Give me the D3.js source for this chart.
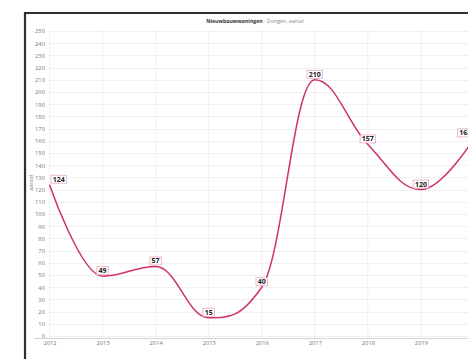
<!DOCTYPE html>
<html>
<head>
<meta charset="utf-8">
<script src="https://cdn.jsdelivr.net/npm/d3@7/dist/d3.min.js"></script>
<style>
  html, body { margin: 0; padding: 0; background: #fff; }
  svg { display: block; font-family: "Open Sans", "Liberation Sans", sans-serif; }
</style>
</head>
<body>
<svg id="chart" width="468" height="359"></svg>
<script>
// Nieuwbouwwoningen in Dongen per jaar
const years = ["2012", "2013", "2014", "2015", "2016", "2017", "2018", "2019", "2020"];
const values = [124, 49, 57, 15, 40, 210, 157, 120, 162];
const yTicks = d3.range(0, 251, 10);
const titleMain = "Nieuwbouwwoningen";
const titleSub = " - Dongen, aantal";
const yTitle = "aantal";

const W = 468, H = 359;
const plot = { left: 50, right: 474, top: 31, bottom: 336 };

const svg = d3.select("#chart");

// outer frame (dark border running off the right and bottom)
svg.append("rect").attr("x", 0).attr("y", 0).attr("width", W).attr("height", H).attr("fill", "#fff");
svg.append("path")
  .attr("d", `M25,${H + 5} L25,13 L${W + 5},13`)
  .attr("fill", "none").attr("stroke", "#2f2f2f").attr("stroke-width", 2.2);

const x = d3.scalePoint().domain(years).range([plot.left - 0.5, plot.right]);
const y = d3.scaleLinear().domain([0, 250]).range([plot.bottom, plot.top]);

// horizontal grid
svg.append("g").selectAll("line").data(yTicks).join("line")
  .attr("x1", plot.left).attr("x2", W)
  .attr("y1", d => Math.round(y(d)) + 0.5).attr("y2", d => Math.round(y(d)) + 0.5)
  .attr("stroke", "#ececec").attr("stroke-width", 0.8);

// vertical grid at each year
svg.append("g").selectAll("line").data(years).join("line")
  .attr("x1", d => x(d)).attr("x2", d => x(d))
  .attr("y1", plot.top).attr("y2", plot.bottom + 2)
  .attr("stroke", "#ececec").attr("stroke-width", 0.8);

// x axis line
svg.append("line")
  .attr("x1", 34).attr("x2", W).attr("y1", 338.5).attr("y2", 338.5)
  .attr("stroke", "#d4d4d4").attr("stroke-width", 1.2);

// y tick labels
const yAxis = d3.axisLeft(y).tickValues(yTicks).tickSize(0).tickPadding(0);
const gy = svg.append("g").attr("transform", "translate(45,0)").call(yAxis);
gy.select(".domain").remove();
gy.selectAll("text")
  .attr("font-size", 5.8).attr("fill", "#777")
  .attr("font-family", "'Open Sans', sans-serif");

// x tick labels
const xAxis = d3.axisBottom(x).tickSize(0).tickPadding(0);
const gx = svg.append("g").attr("transform", "translate(0,341)").call(xAxis);
gx.select(".domain").remove();
gx.selectAll("text")
  .attr("font-size", 5.8).attr("fill", "#777")
  .attr("font-family", "'Open Sans', sans-serif");

// title
const title = svg.append("text")
  .attr("x", 255).attr("y", 22.5).attr("text-anchor", "middle")
  .attr("font-size", 5.2);
title.append("tspan").attr("font-weight", "bold").attr("fill", "#333").text(titleMain);
title.append("tspan").attr("fill", "#888").text(titleSub);

// y axis title
svg.append("text")
  .attr("transform", "translate(33,183) rotate(-90)")
  .attr("text-anchor", "middle").attr("font-size", 5.6).attr("fill", "#888")
  .text(yTitle);

// smooth spline through the points, with control points kept between neighbours
function splineCurve(context) {
  let pts;
  return {
    areaStart() {}, areaEnd() {},
    lineStart() { pts = []; },
    point(px, py) { pts.push([+px, +py]); },
    lineEnd() {
      const n = pts.length;
      if (!n) return;
      const sm = 1.5, den = sm + 1;
      const ctrl = pts.map((p, i) => {
        if (i === 0 || i === n - 1) return null;
        const [lx, ly] = pts[i - 1], [nx, ny] = pts[i + 1], [px, py] = p;
        let lcx = (sm * px + lx) / den, lcy = (sm * py + ly) / den;
        let rcx = (sm * px + nx) / den, rcy = (sm * py + ny) / den;
        const corr = ((rcy - lcy) * (rcx - px)) / (rcx - lcx) + py - rcy;
        lcy += corr; rcy += corr;
        if (lcy > ly && lcy > py) { lcy = Math.max(ly, py); rcy = 2 * py - lcy; }
        else if (lcy < ly && lcy < py) { lcy = Math.min(ly, py); rcy = 2 * py - lcy; }
        if (rcy > ny && rcy > py) { rcy = Math.max(ny, py); lcy = 2 * py - rcy; }
        else if (rcy < ny && rcy < py) { rcy = Math.min(ny, py); lcy = 2 * py - rcy; }
        return { l: [lcx, lcy], r: [rcx, rcy] };
      });
      context.moveTo(pts[0][0], pts[0][1]);
      for (let i = 1; i < n; i++) {
        const a = ctrl[i - 1] ? ctrl[i - 1].r : pts[i - 1];
        const b = ctrl[i] ? ctrl[i].l : pts[i];
        context.bezierCurveTo(a[0], a[1], b[0], b[1], pts[i][0], pts[i][1]);
      }
    }
  };
}

const line = d3.line()
  .x((d, i) => x(years[i]))
  .y(d => y(d))
  .curve(splineCurve);

svg.append("path")
  .datum(values)
  .attr("d", line)
  .attr("fill", "none")
  .attr("stroke", "#d0306a")
  .attr("stroke-width", 1.5);

// value labels above each point, kept inside the plot horizontally
const labels = svg.append("g").selectAll("g").data(values).join("g");
labels.each(function (d, i) {
  const g = d3.select(this);
  const t = g.append("text")
    .attr("font-size", 7).attr("font-weight", "bold").attr("fill", "#222")
    .attr("text-anchor", "middle")
    .text(d);
  const bw = t.node().getComputedTextLength() + 3.5;
  const bh = 8;
  let cx = x(years[i]);
  cx = Math.max(plot.left + 1 + bw / 2, Math.min(W - 1 - bw / 2 + 12, cx));
  if (cx + bw / 2 > plot.right - 1) cx = plot.right - 1 - bw / 2;
  const by = y(d) - 1.5 - bh;
  g.insert("rect", "text")
    .attr("x", cx - bw / 2).attr("y", by)
    .attr("width", bw).attr("height", bh)
    .attr("fill", "rgba(255,255,255,0.9)")
    .attr("stroke", "#eaa6c0").attr("stroke-width", 0.8);
  t.attr("x", cx).attr("y", by + bh / 2 + 2.5);
});
</script>
</body>
</html>
